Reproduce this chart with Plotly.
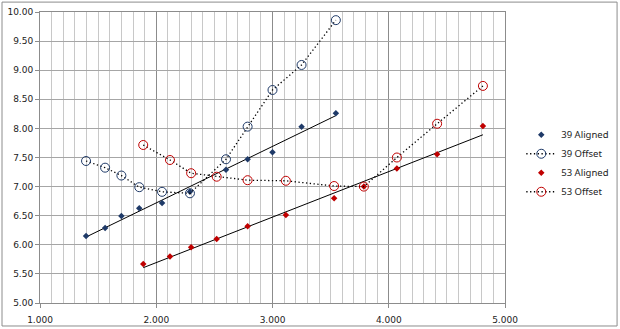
import numpy as np
import plotly.graph_objects as go

x39 = [1.396, 1.56, 1.70, 1.854, 2.05, 2.29, 2.60, 2.786, 3.00, 3.25, 3.545]
y39_aligned = [6.15, 6.29, 6.495, 6.627, 6.72, 6.91, 7.29, 7.47, 7.59, 8.03, 8.26]
y39_offset = [7.44, 7.325, 7.19, 6.99, 6.91, 6.885, 7.47, 8.03, 8.66, 9.09, 9.86]

x53 = [1.888, 2.118, 2.30, 2.52, 2.786, 3.115, 3.53, 3.786, 4.07, 4.416, 4.81]
y53_aligned = [5.67, 5.80, 5.957, 6.10, 6.32, 6.51, 6.80, 7.00, 7.31, 7.555, 8.04]
y53_offset = [7.715, 7.457, 7.23, 7.17, 7.11, 7.10, 7.01, 7.00, 7.50, 8.08, 8.73]

NAVY = "#1F3A68"
RED = "#C00000"

fig = go.Figure()

def trend(xs, ys):
    p = np.polyfit(xs, ys, 1)
    xx = np.array([min(xs), max(xs)])
    return xx, np.polyval(p, xx)

tx, ty = trend(x39, y39_aligned)
fig.add_trace(go.Scatter(x=tx, y=ty, mode="lines", line=dict(color="black", width=1),
                         showlegend=False, hoverinfo="skip"))
tx, ty = trend(x53, y53_aligned)
fig.add_trace(go.Scatter(x=tx, y=ty, mode="lines", line=dict(color="black", width=1),
                         showlegend=False, hoverinfo="skip"))

fig.add_trace(go.Scatter(x=x39, y=y39_aligned, mode="markers", name="39 Aligned",
                         marker=dict(symbol="diamond", size=5, color=NAVY)))
fig.add_trace(go.Scatter(x=x39, y=y39_offset, mode="lines+markers", name="39 Offset",
                         line=dict(color="black", width=1.3, dash="1.3px,2.5px"),
                         marker=dict(symbol="circle-open", size=9, color=NAVY, line=dict(width=1))))
fig.add_trace(go.Scatter(x=x53, y=y53_aligned, mode="markers", name="53 Aligned",
                         marker=dict(symbol="diamond", size=5, color=RED)))
fig.add_trace(go.Scatter(x=x53, y=y53_offset, mode="lines+markers", name="53 Offset",
                         line=dict(color="black", width=1.3, dash="1.3px,2.5px"),
                         marker=dict(symbol="circle-open", size=9, color=RED, line=dict(width=1))))

tickfont = dict(family="DejaVu Sans", size=9, color="#222222")
fig.update_layout(
    width=620, height=329,
    margin=dict(l=40, r=115, t=12, b=26, autoexpand=False),
    paper_bgcolor="white", plot_bgcolor="white",
    xaxis=dict(range=[1, 5], dtick=1, tickformat=".3f", showgrid=True,
               gridcolor="#8C8C8C", gridwidth=1,
               minor=dict(dtick=0.1, showgrid=True, gridcolor="#C8C8C8", gridwidth=1),
               showline=True, linecolor="#8C8C8C", mirror=True,
               ticks="outside", ticklen=4, tickcolor="#8C8C8C",
               ticklabelstandoff=4, automargin=False,
               zeroline=False, tickfont=tickfont),
    yaxis=dict(range=[5, 10], dtick=0.5, tickformat=".2f", showgrid=True,
               gridcolor="#A6A6A6", gridwidth=1,
               showline=True, linecolor="#8C8C8C", mirror=True,
               ticks="outside", ticklen=4, tickcolor="#8C8C8C",
               automargin=False,
               zeroline=False, tickfont=tickfont),
    legend=dict(x=1.035, y=0.628, xanchor="left", yanchor="top",
                font=dict(family="Noto Sans", size=9.5, color="#222222"),
                bgcolor="rgba(0,0,0,0)", tracegroupgap=2, itemwidth=30),
    shapes=[dict(type="rect", xref="paper", yref="paper",
                 x0=-0.0817, x1=1.241, y0=-0.079, y1=1.034,
                 line=dict(color="#8C8C8C", width=1), fillcolor="rgba(0,0,0,0)")],
)

fig.write_html("out.html")
